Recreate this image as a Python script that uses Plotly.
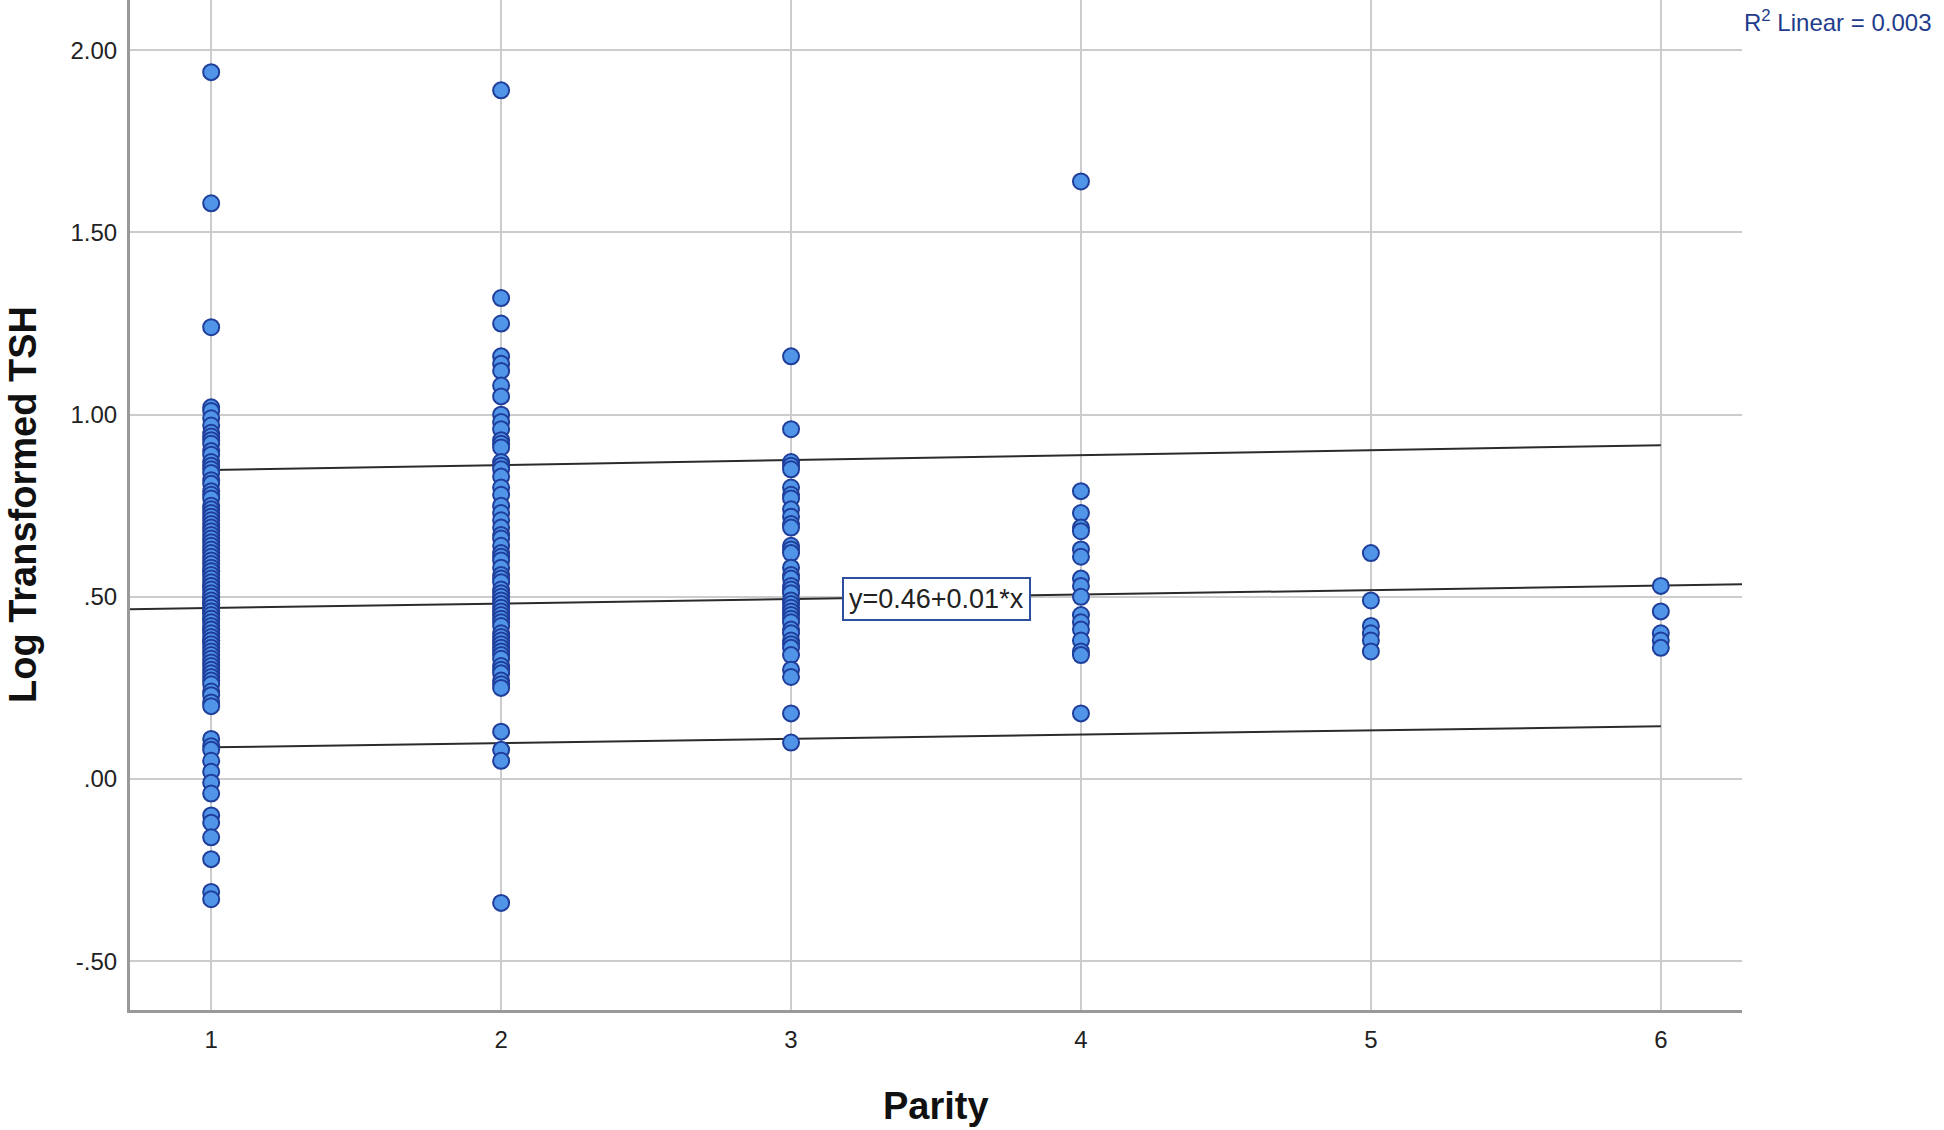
import plotly.graph_objects as go

# Log transformed TSH by parity
tsh_p1 = [1.94, 1.58, 1.24, 1.02, 1.01,
          0.99, 0.97, 0.95, 0.94, 0.93, 0.92, 0.90, 0.89, 0.87, 0.86, 0.85, 0.84,
          0.82, 0.81, 0.79, 0.78, 0.77, 0.75, 0.74, 0.73, 0.72, 0.71, 0.70, 0.69,
          0.68, 0.67, 0.66, 0.65, 0.64, 0.63, 0.62, 0.61, 0.60, 0.59, 0.58, 0.57,
          0.57, 0.56, 0.55, 0.54, 0.53, 0.53, 0.52, 0.51, 0.50, 0.50, 0.49, 0.48,
          0.48, 0.47, 0.46, 0.46, 0.45, 0.44, 0.44, 0.43, 0.42, 0.41, 0.41, 0.40,
          0.39, 0.38, 0.38, 0.37, 0.36, 0.35, 0.34, 0.33, 0.32, 0.31, 0.30, 0.29,
          0.28, 0.27, 0.26, 0.24, 0.23, 0.21, 0.20,
          0.11, 0.09, 0.08, 0.05, 0.02, -0.01, -0.04, -0.10, -0.12, -0.16, -0.22,
          -0.31, -0.33]
tsh_p2 = [1.89, 1.32, 1.25, 1.16, 1.14, 1.12, 1.08, 1.05, 1.00, 0.98, 0.96, 0.93,
          0.92, 0.91, 0.87, 0.86, 0.85, 0.83, 0.80, 0.78, 0.75, 0.73, 0.71, 0.69,
          0.67, 0.66, 0.64, 0.62, 0.61, 0.60, 0.58, 0.56, 0.55, 0.54, 0.52, 0.51,
          0.50, 0.49, 0.48, 0.47, 0.46, 0.45, 0.44, 0.43, 0.42, 0.40, 0.39, 0.38,
          0.37, 0.36, 0.35, 0.34, 0.33, 0.31, 0.30, 0.29, 0.27, 0.26, 0.25,
          0.13, 0.08, 0.05, -0.34]
tsh_p3 = [1.16, 0.96, 0.87, 0.86, 0.85, 0.80, 0.78, 0.77, 0.74, 0.72, 0.70, 0.69,
          0.64, 0.63, 0.62, 0.58, 0.56, 0.55, 0.53, 0.52, 0.51, 0.49, 0.48, 0.47,
          0.46, 0.45, 0.44, 0.43, 0.41, 0.40, 0.38, 0.37, 0.36, 0.34, 0.30, 0.28,
          0.18, 0.10]
tsh_p4 = [1.64, 0.79, 0.73, 0.69, 0.68, 0.63, 0.61, 0.55, 0.53, 0.50, 0.45, 0.43,
          0.41, 0.38, 0.35, 0.34, 0.18]
tsh_p5 = [0.62, 0.49, 0.42, 0.40, 0.38, 0.35]
tsh_p6 = [0.53, 0.46, 0.40, 0.38, 0.36]

parity_ticks = [1, 2, 3, 4, 5, 6]
y_ticks = [-0.5, 0.0, 0.5, 1.0, 1.5, 2.0]
y_ticktext = ["-.50", ".00", ".50", "1.00", "1.50", "2.00"]

# fit line and prediction interval
fit_intercept = 0.457
fit_slope = 0.0123
pi_x = [1, 6]
pi_upper = [0.848, 0.916]
pi_lower = [0.087, 0.145]

x_range = [0.72, 6.28]
y_range = [-0.634, 2.138]

FONT = "Liberation Sans, Arial, sans-serif"

xs, ys = [], []
for p, vals in zip(parity_ticks, [tsh_p1, tsh_p2, tsh_p3, tsh_p4, tsh_p5, tsh_p6]):
    xs.extend([p] * len(vals))
    ys.extend(vals)

fig = go.Figure()

fig.add_trace(go.Scatter(
    x=x_range, y=[fit_intercept + fit_slope * v for v in x_range],
    mode="lines", line=dict(color="#2b2b2b", width=2), hoverinfo="skip"))
fig.add_trace(go.Scatter(x=pi_x, y=pi_upper, mode="lines",
                         line=dict(color="#2b2b2b", width=2), hoverinfo="skip"))
fig.add_trace(go.Scatter(x=pi_x, y=pi_lower, mode="lines",
                         line=dict(color="#2b2b2b", width=2), hoverinfo="skip"))

fig.add_trace(go.Scatter(
    x=xs, y=ys, mode="markers",
    marker=dict(size=16, color="#5195e8", line=dict(color="#1f3e9a", width=2)),
    cliponaxis=False))

fig.update_layout(
    width=1944, height=1130,
    margin=dict(l=130, r=202, t=0, b=120),
    paper_bgcolor="white", plot_bgcolor="white",
    showlegend=False,
    font=dict(family=FONT, color="#222222"),
)

fig.update_xaxes(
    range=x_range, tickvals=parity_ticks, ticktext=[str(t) for t in parity_ticks],
    showgrid=True, gridcolor="#cccccc", gridwidth=2,
    showline=True, linecolor="#999999", linewidth=3,
    zeroline=False, ticks="", ticklabelstandoff=6,
    tickfont=dict(size=24, color="#222222"))
fig.update_yaxes(
    range=y_range, tickvals=y_ticks, ticktext=y_ticktext,
    showgrid=True, gridcolor="#cccccc", gridwidth=2,
    showline=True, linecolor="#999999", linewidth=3,
    zeroline=False, ticks="", ticklabelstandoff=5,
    tickfont=dict(size=24, color="#222222"))

# axis titles
fig.add_annotation(text="<b>Parity</b>", xref="paper", yref="paper",
                   x=0.5, y=0, xanchor="center", yanchor="middle", yshift=-96,
                   showarrow=False, font=dict(size=38, color="#111111"))
fig.add_annotation(text="<b>Log Transformed TSH</b>", xref="paper", yref="paper",
                   x=0, y=0.5, xanchor="center", yanchor="middle", xshift=-107,
                   textangle=-90, showarrow=False,
                   font=dict(size=38, color="#111111"))

# equation label on fit line
fig.add_annotation(text="y=0.46+0.01*x", x=3.5, y=0.494, showarrow=False,
                   bgcolor="white", bordercolor="#2e4e9e", borderwidth=2,
                   borderpad=5, font=dict(size=27, color="#222222"))

# R squared
fig.add_annotation(text="R<sup>2</sup> Linear = 0.003", xref="paper", yref="paper",
                   x=1, y=1, xanchor="left", yanchor="top", xshift=0, yshift=-4,
                   showarrow=False, font=dict(size=24, color="#1f3c8c"))

fig.write_html("out.html", config={"displayModeBar": False},
               post_script="document.body.style.margin='0';")
